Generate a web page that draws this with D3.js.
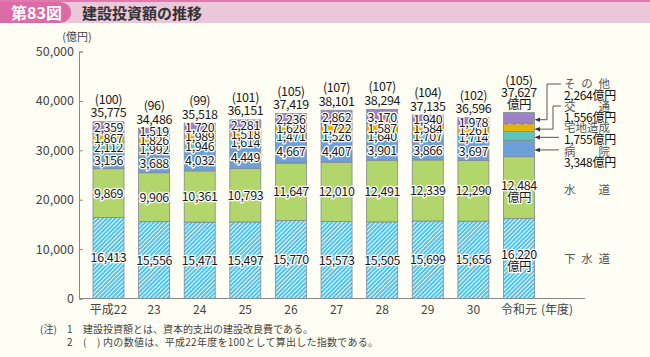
<!DOCTYPE html>
<html><head><meta charset="utf-8">
<script src="https://cdn.jsdelivr.net/npm/d3@7"></script>
<style>
html,body{margin:0;padding:0;background:#fffef5;}
svg{display:block;font-family:"Noto Sans CJK JP","Noto Sans",sans-serif;}
</style></head><body>
<svg id="c" width="650" height="357"></svg>
<script>
const years = ["平成22","23","24","25","26","27","28","29","30","令和元"];
const sewer = [16413,15556,15471,15497,15770,15573,15505,15699,15656,16220];
const water = [9869,9906,10361,10793,11647,12010,12491,12339,12290,12484];
const hospital = [3156,3688,4032,4449,4667,4407,3901,3866,3697,3348];
const land = [2112,1992,1946,1614,1471,1526,1640,1707,1714,1755];
const transport = [1867,1826,1989,1518,1628,1722,1587,1584,1261,1556];
const other = [2359,1519,1720,2281,2236,2862,3170,1940,1978,2264];
const totals = [35775,34486,35518,36151,37419,38101,38294,37135,36596,37627];
const indexes = [100,96,99,101,105,107,107,104,102,105];
const yTicks = [0,10000,20000,30000,40000,50000];
const seriesNames = ["下水道","水道","病院","宅地造成","交通","その他"];
const legendLabels = ["下 水 道","水　　道","病　　院","宅地造成","交　　通","そ の 他"];
const footnotes = ["建設投資額とは、資本的支出の建設改良費である。","(　) 内の数値は、平成22年度を100として算出した指数である。"];

const svg = d3.select("#c");
const fmt = d3.format(",");
const series = [sewer, water, hospital, land, transport, other];
const fills = ["url(#pSewer)","#b3d66c","#6d9fd8","#5fc5bb","url(#pTrans)","#9c82c6"];

// defs
const defs = svg.append("defs");
const ps = defs.append("pattern").attr("id","pSewer").attr("patternUnits","userSpaceOnUse")
  .attr("width",3).attr("height",3).attr("patternTransform","rotate(45)");
ps.append("rect").attr("width",3).attr("height",3).attr("fill","#4cc0e6");
ps.append("rect").attr("width",1.1).attr("height",3).attr("fill","#e8f8fd");
const pt = defs.append("pattern").attr("id","pTrans").attr("patternUnits","userSpaceOnUse")
  .attr("width",8).attr("height",8).attr("x",2);
pt.append("rect").attr("width",8).attr("height",8).attr("fill","#e8b300");
pt.append("rect").attr("x",3).attr("y",3).attr("width",2).attr("height",2).attr("fill","#fff6c8");
const arrow = defs.append("marker").attr("id","arr").attr("viewBox","0 0 8 8").attr("refX",7).attr("refY",4)
  .attr("markerWidth",6).attr("markerHeight",6).attr("orient","auto-start-reverse");
arrow.append("path").attr("d","M0,0.5 L8,4 L0,7.5 Z").attr("fill","#333");

// header
svg.append("rect").attr("x",0).attr("y",0).attr("width",650).attr("height",23).attr("fill","#ebc7d9");
svg.append("rect").attr("x",0).attr("y",0).attr("width",650).attr("height",2).attr("fill","#e07aae");
svg.append("path").attr("d","M0,2 H60 A11,10.5 0 0 1 60,23 H0 Z").attr("fill","#dc6aa4");
svg.append("text").attr("x",11).attr("y",18.5).attr("fill","#fff").attr("font-size",16).attr("font-weight","bold").text("第83図");
svg.append("text").attr("x",82).attr("y",18.5).attr("fill","#333").attr("font-size",15).attr("font-weight","bold").text("建設投資額の推移");

// scales
const y = d3.scaleLinear().domain([0,50000]).range([298.5,51.5]);
const x = d3.scalePoint().domain(years).range([108.5,519]);
const bw = 31;

// y axis
const yAxis = svg.append("g").attr("transform","translate(79,0)")
  .call(d3.axisRight(y).tickValues(yTicks).tickSize(4).tickFormat(""));
yAxis.select(".domain").attr("stroke","#888");
yAxis.selectAll(".tick line").attr("stroke","#888");
svg.append("g").selectAll("text").data(yTicks).join("text")
  .attr("x",74).attr("y",d=>y(d)+4.5).attr("text-anchor","end").attr("font-size",12.5).attr("fill","#444")
  .text(d=>fmt(d));
svg.append("text").attr("x",77).attr("y",41).attr("text-anchor","middle").attr("font-size",11).attr("fill","#444").text("(億円)");

// x axis
svg.append("line").attr("x1",79).attr("x2",585).attr("y1",y(0)).attr("y2",y(0)).attr("stroke","#888");
svg.append("g").selectAll("text").data(years).join("text")
  .attr("x",d=>x(d)).attr("y",314).attr("text-anchor","middle").attr("font-size",12).attr("fill","#444").text(d=>d);
svg.append("text").attr("x",x(years[9])+22).attr("y",314).attr("font-size",12).attr("fill","#444").text("(年度)");

// stacked data
const rows = years.map((yr,i)=>{const o={year:yr}; seriesNames.forEach((s,k)=>o[s]=series[k][i]); return o;});
const stack = d3.stack().keys(seriesNames)(rows);

const g = svg.append("g");
stack.forEach((layer,k)=>{
  g.selectAll(null).data(layer).join("rect")
    .attr("x",d=>x(d.data.year)-bw/2).attr("width",bw)
    .attr("y",d=>y(d[1])).attr("height",d=>y(d[0])-y(d[1]))
    .attr("fill",fills[k]).attr("stroke","#7f8a90").attr("stroke-width",0.8);
});

// segment labels
const lab = svg.append("g").attr("font-size",12.5).attr("letter-spacing",-0.4).attr("text-anchor","middle");
function halo(sel){return sel.attr("stroke","#fff").attr("stroke-width",2.6).attr("stroke-linejoin","round").attr("paint-order","stroke").attr("fill","#1a1a1a");}
stack.forEach((layer,k)=>{
  layer.forEach((d,i)=>{
    const last = i===years.length-1;
    if (last && k>=2) return;
    const cy = (y(d[0])+y(d[1]))/2;
    if (last) {
      halo(lab.append("text").attr("x",x(d.data.year)).attr("y",cy+ (k===0?0.5:2.5)).text(fmt(d[1]-d[0])));
      halo(lab.append("text").attr("x",x(d.data.year)).attr("y",cy+ (k===0?12.5:14.5)).text("億円"));
    } else {
      halo(lab.append("text").attr("x",x(d.data.year)).attr("y",cy+4.5).text(fmt(d[1]-d[0])));
    }
  });
});

// totals and index
years.forEach((yr,i)=>{
  const top = y(totals[i]);
  const last = i===years.length-1;
  if (last) {
    lab.append("text").attr("x",x(yr)).attr("y",top-4).attr("fill","#1a1a1a").text("億円");
    lab.append("text").attr("x",x(yr)).attr("y",top-16).attr("fill","#1a1a1a").text(fmt(totals[i]));
    lab.append("text").attr("x",x(yr)).attr("y",top-28).attr("fill","#1a1a1a").text("("+indexes[i]+")");
  } else {
    lab.append("text").attr("x",x(yr)).attr("y",top-4.5).attr("fill","#1a1a1a").text(fmt(totals[i]));
    lab.append("text").attr("x",x(yr)).attr("y",top-18).attr("fill","#1a1a1a").text("("+indexes[i]+")");
  }
});

// right legend with leader lines
const li = years.length-1;
const lastStack = stack.map(l=>l[li]);
const bx = x(years[li]) + bw/2 + 1;
const leg = svg.append("g");
const legX = 564;
const legendSpec = [
  {k:5, ly:88, vy:100, path:(my)=>`M561,84 H547 V${my} H${bx}`},
  {k:4, ly:111, vy:122, path:(my)=>`M561,106 H553 V${my} H${bx}`},
  {k:3, ly:132, vy:144, path:(my)=>`M559,${my} H${bx}`},
  {k:2, ly:156, vy:167, path:(my)=>`M559,${my} H${bx}`}
];
legendSpec.forEach(s=>{
  const d = lastStack[s.k];
  const my = (y(d[0])+y(d[1]))/2 + 1.5;
  leg.append("path").attr("d",s.path(my)).attr("fill","none").attr("stroke","#444").attr("stroke-width",0.9).attr("marker-end","url(#arr)");
  const t = leg.append("text").attr("x",legX).attr("y",s.ly).attr("font-size",11.5).attr("fill","#555").text(legendLabels[s.k]);
  if (s.k!==3) t.attr("textLength",46);
  const v = leg.append("text").attr("x",legX).attr("y",s.vy).attr("font-size",12).attr("fill","#111").attr("letter-spacing",-0.3);
  v.append("tspan").text(fmt(d[1]-d[0]));
  v.append("tspan").text("億円");
});
[0,1].forEach(k=>{
  const d = lastStack[k];
  const my = (y(d[0])+y(d[1]))/2;
  leg.append("text").attr("x",legX).attr("y",my+(k===0?4.5:6)).attr("font-size",11.5).attr("fill","#555")
    .attr("textLength",46).text(legendLabels[k]);
});

// footnotes
const fn = svg.append("g").attr("font-size",10).attr("fill","#444");
fn.append("text").attr("x",40).attr("y",333).text("(注)");
fn.append("text").attr("x",67).attr("y",333).text("1");
fn.append("text").attr("x",83).attr("y",333).text(footnotes[0]);
fn.append("text").attr("x",67).attr("y",346).text("2");
fn.append("text").attr("x",83).attr("y",346).attr("textLength",295).text(footnotes[1]);
</script>
</body></html>
